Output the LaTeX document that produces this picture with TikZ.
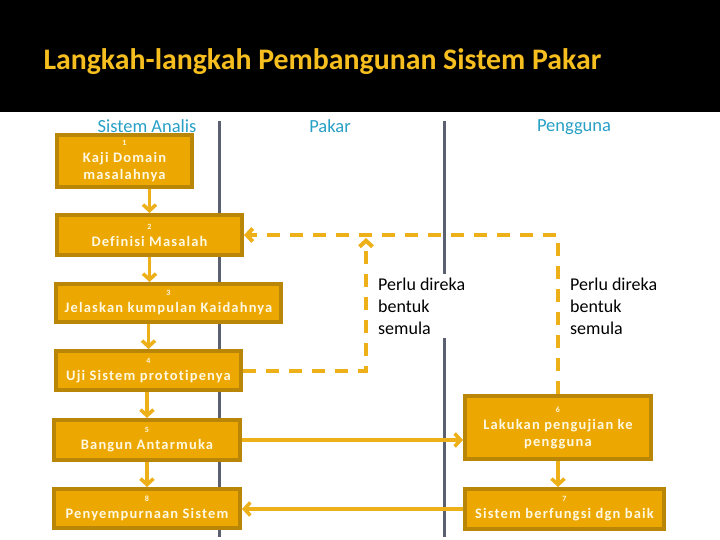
\documentclass[tikz,border=0pt]{standalone}
\usepackage{fontspec}
\setmainfont{Carlito}
\newfontfamily\stepfont[LetterSpace=8, Ligatures=NoCommon]{Carlito Bold}
\newfontfamily\titlefont{Carlito Bold}
\usetikzlibrary{arrows.meta}
\definecolor{gold}{RGB}{236,168,0}
\definecolor{golddark}{RGB}{186,134,8}
\definecolor{goldline}{RGB}{238,176,24}
\definecolor{titlegold}{RGB}{246,190,30}
\definecolor{laneblue}{RGB}{40,160,198}
\definecolor{lanegray}{RGB}{90,96,112}
\definecolor{cream}{RGB}{255,248,226}
\tikzset{
	stepbox/.style={draw=golddark, line width=4pt, fill=gold, text=cream, align=center,
		inner sep=0pt, font=\stepfont\fontsize{14.5}{17}\selectfont},
	flow/.style={goldline, line width=3.5pt, -{Straight Barb[length=6pt,width=13pt]}},
	backflow/.style={goldline, line width=4pt, dash pattern=on 13pt off 10pt,
		-{Straight Barb[length=6pt,width=13pt]}},
	lanetitle/.style={text=laneblue, font=\fontsize{18.5}{22}\selectfont},
	lane/.style={lanegray, line width=3pt},
	note/.style={fill=white, align=left, inner sep=4pt, font=\fontsize{18}{22}\selectfont}
}
\newcommand{\nr}[1]{{\fontsize{8}{10}\selectfont #1}}

\begin{document}
\begin{tikzpicture}[x=1pt, y=-1pt]
		%%%%% START %%%%%
		\useasboundingbox (0,0) rectangle (720,540);
		\fill[white] (0,0) rectangle (720,540);
		\fill[black] (0,0) rectangle (720,112);
		\node[anchor=west, text=titlegold, font=\titlefont\fontsize{29.8}{34}\selectfont] (title) at (40,62) {Langkah-langkah Pembangunan Sistem Pakar};
		
		%% lanes
		\node[lanetitle] (analis) at (147,126) {Sistem Analis};
		\node[lanetitle] (pakar) at (330,126) {Pakar};
		\node[lanetitle] (pengguna) at (574,127) {Pengguna};
		\draw[lane] (219,121) -- (219,537);
		\draw[lane] (444,121) -- (444,537);
		
		%% steps
		\node[stepbox, minimum width=135pt, minimum height=52pt] (kaji) at (124.5,161) {\nr{1}\\Kaji Domain\\masalahnya};
		\node[stepbox, minimum width=185pt, minimum height=40pt] (definisi) at (149.5,235) {\nr{2}\\Definisi Masalah};
		\node[stepbox, minimum width=225pt, minimum height=38pt] (jelaskan) at (168.5,303) {\nr{3}\\Jelaskan kumpulan Kaidahnya};
		\node[stepbox, minimum width=185pt, minimum height=39pt] (uji) at (148.5,370.5) {\nr{4}\\Uji Sistem prototipenya};
		\node[stepbox, minimum width=186pt, minimum height=40pt] (bangun) at (147,440) {\nr{5}\\Bangun Antarmuka};
		\node[stepbox, minimum width=186pt, minimum height=39pt] (sempurna) at (147,508.5) {\nr{8}\\Penyempurnaan Sistem};
		\node[stepbox, minimum width=186pt, minimum height=63pt] (lakukan) at (558,427.5) {\nr{6}\\Lakukan pengujian ke\\pengguna};
		\node[stepbox, minimum width=199pt, minimum height=40pt] (berfungsi) at (564.5,509) {\nr{7}\\Sistem berfungsi dgn baik};
		
		%% notes
		\node[note, anchor=west] (direka) at (374,306) {Perlu direka\\bentuk\\semula};
		\node[note, anchor=west] (direkab) at (566,306) {Perlu direka\\bentuk\\semula};
		
		%% solid arrows
		\draw[flow] (kaji.south -| definisi.north) -- (definisi.north);
		\draw[flow] (definisi.south) -- (definisi.south |- jelaskan.north);
		\draw[flow] (jelaskan.south -| uji.north) -- (uji.north);
		\draw[flow] (uji.south -| bangun.north) -- (bangun.north);
		\draw[flow] (bangun.south) -- (sempurna.north);
		\draw[flow] (bangun.east) -- (bangun.east -| lakukan.west);
		\draw[flow] (lakukan.south) -- (lakukan.south |- berfungsi.north);
		\draw[flow] (berfungsi.west) -- (berfungsi.west -| sempurna.east);
		
		%% dashed loops
		\coordinate (ulang) at (366,238);
		\draw[backflow] (lakukan.north) |- (definisi.east);
		\draw[backflow] (uji.east) -| (ulang);
		
		%%%%% END %%%%%
	\end{tikzpicture}
\end{document}
